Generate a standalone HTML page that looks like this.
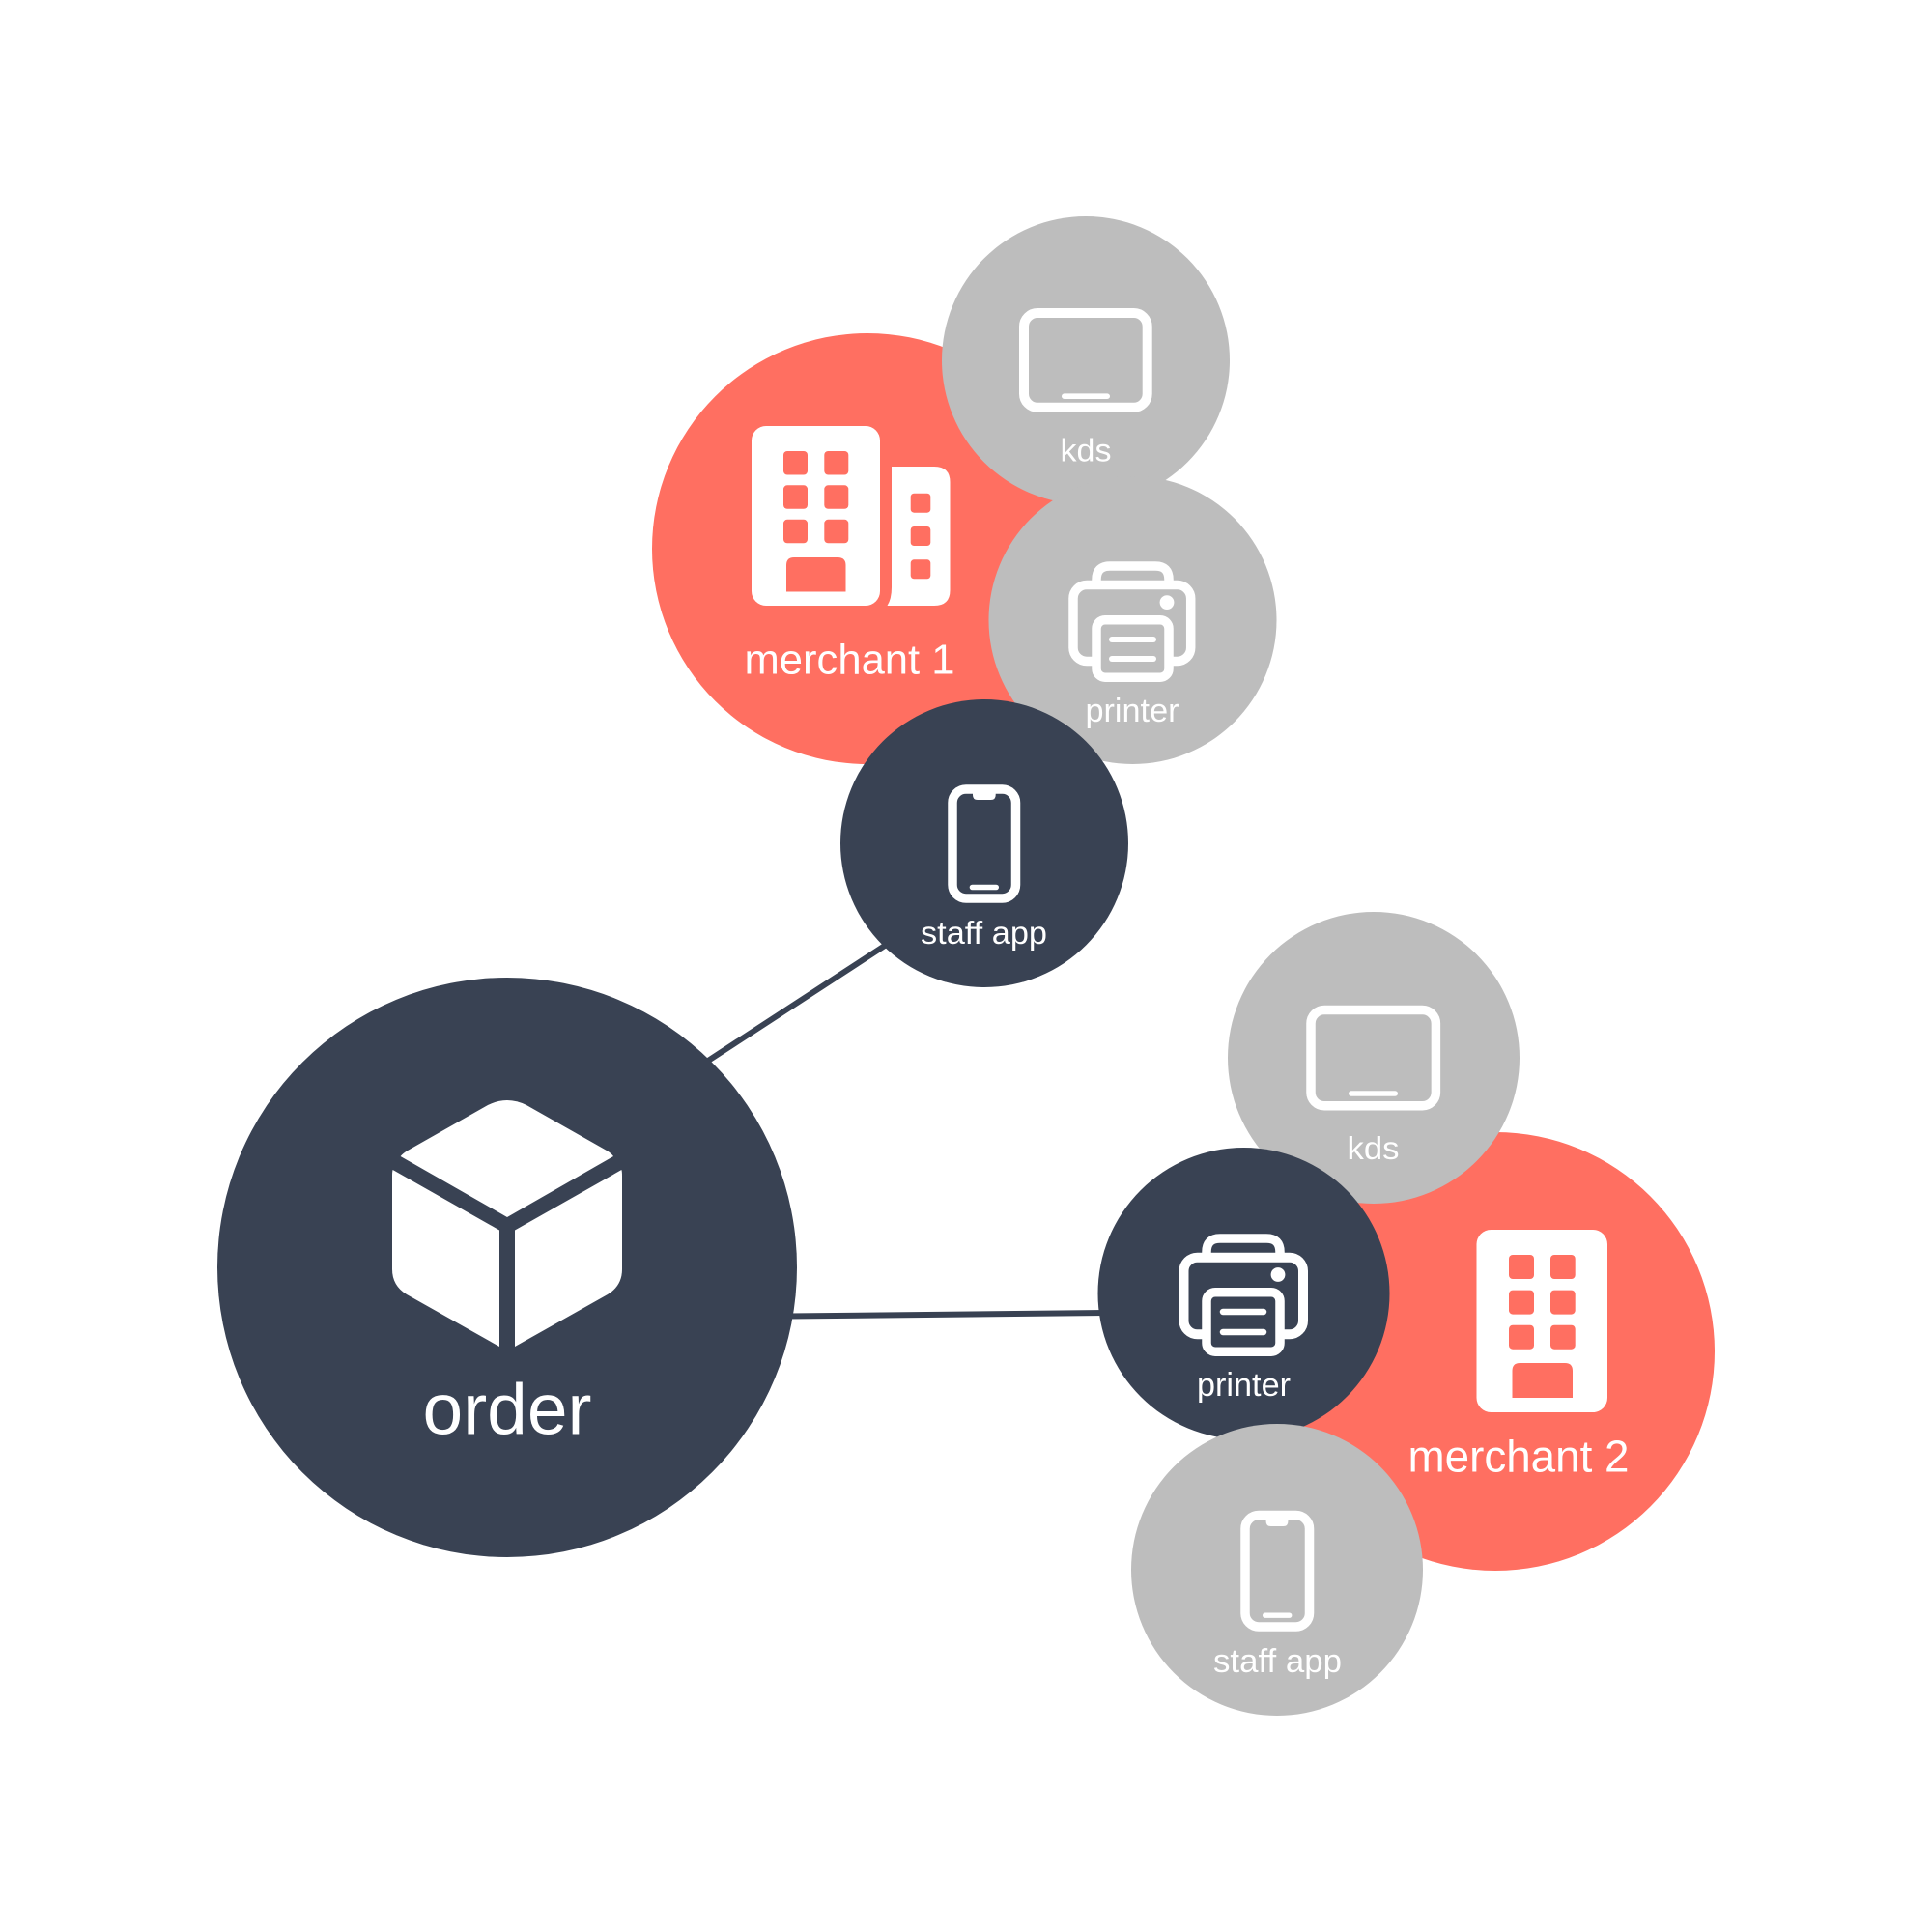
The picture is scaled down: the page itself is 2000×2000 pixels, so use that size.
<!DOCTYPE html>
<html>
<head>
<meta charset="utf-8">
<style>
html,body{margin:0;padding:0;background:#fff;width:2000px;height:2000px;overflow:hidden}
svg{display:block}
text{font-family:"Liberation Sans",sans-serif;fill:#fff;text-anchor:middle}
</style>
</head>
<body>
<svg xmlns="http://www.w3.org/2000/svg" width="2000" height="2000" viewBox="0 0 2000 2000">
<rect width="2000" height="2000" fill="#fff"/>

<!-- connectors -->
<line x1="730" y1="1100" x2="925" y2="973" stroke="#394253" stroke-width="6"/>
<line x1="815" y1="1362.5" x2="1145" y2="1359" stroke="#394253" stroke-width="6"/>

<!-- order -->
<circle cx="525" cy="1312" r="300" fill="#394253"/>
<path d="M414.6 1197 Q417 1194 422 1191 L505 1144 Q525 1134 545 1144 L628 1191 Q633 1194 635 1197 L525 1260 Z" fill="#fff"/>
<path d="M406.6 1211 L517 1273.5 V1394 L421 1340 Q406 1331 406 1314 V1217 Q406 1213 406.6 1211 Z" fill="#fff"/>
<path d="M643.4 1211 L533 1273.5 V1394 L629 1340 Q644 1331 644 1314 V1217 Q644 1213 643.4 1211 Z" fill="#fff"/>
<text x="525" y="1484.5" font-size="74" textLength="175" lengthAdjust="spacingAndGlyphs">order</text>

<!-- merchant 1 -->
<circle cx="898" cy="568" r="223" fill="#ff6f61"/>
<rect x="778" y="441" width="133" height="186" rx="15" fill="#fff"/>
<g fill="#ff6f61">
<rect x="811" y="467" width="25" height="24.5" rx="4"/>
<rect x="853.3" y="467" width="25" height="24.5" rx="4"/>
<rect x="811" y="502.3" width="25" height="24.5" rx="4"/>
<rect x="853.3" y="502.3" width="25" height="24.5" rx="4"/>
<rect x="811" y="537.8" width="25" height="24.5" rx="4"/>
<rect x="853.3" y="537.8" width="25" height="24.5" rx="4"/>
<path d="M814 612.5 V585 Q814 577 822 577 H867 Q875.5 577 875.5 585 V612.5 Z"/>
</g>
<path d="M923 483 H967 Q983.5 483 983.5 499 V611 Q983.5 627 967 627 H918.5 Q923 620 923 608 Z" fill="#fff"/>
<g fill="#ff6f61">
<rect x="942.7" y="510.7" width="20.6" height="20" rx="3.5"/>
<rect x="942.7" y="545" width="20.6" height="20" rx="3.5"/>
<rect x="942.7" y="579.3" width="20.6" height="20" rx="3.5"/>
</g>
<text x="879.5" y="697.5" font-size="44" textLength="218" lengthAdjust="spacingAndGlyphs">merchant 1</text>

<!-- kds 1 -->
<circle cx="1124" cy="373" r="149" fill="#bdbdbd"/>
<rect x="1060" y="324" width="127.7" height="97.7" rx="14" fill="none" stroke="#fff" stroke-width="10"/>
<rect x="1099" y="407.4" width="50" height="5.6" rx="2.8" fill="#fff"/>
<text x="1129" y="477.5" font-size="33" textLength="53" lengthAdjust="spacingAndGlyphs" dx="-5">kds</text>

<!-- printer 1 -->
<circle cx="1172.5" cy="642" r="149" fill="#bdbdbd"/>
<path d="M1135 606 V600 Q1135 586 1149 586 H1196 Q1210 586 1210 600 V606" fill="none" stroke="#fff" stroke-width="9.5"/>
<rect x="1111" y="605.5" width="121.7" height="79" rx="14" fill="none" stroke="#fff" stroke-width="9.5"/>
<rect x="1135" y="641.7" width="75" height="59.5" rx="9" fill="#bdbdbd" stroke="#fff" stroke-width="9.5"/>
<circle cx="1208" cy="623.6" r="7.4" fill="#fff"/>
<line x1="1151" y1="662" x2="1194" y2="662" stroke="#fff" stroke-width="6" stroke-linecap="round"/>
<line x1="1151" y1="682" x2="1194" y2="682" stroke="#fff" stroke-width="6" stroke-linecap="round"/>
<text x="1172" y="747" font-size="34" textLength="97" lengthAdjust="spacingAndGlyphs">printer</text>

<!-- staff app dark -->
<circle cx="1019" cy="873" r="149" fill="#394253"/>
<rect x="986" y="817" width="65.5" height="113" rx="14" fill="none" stroke="#fff" stroke-width="9.5"/>
<path d="M1007 815 H1030.7 V823 Q1030.7 828 1025.7 828 H1012 Q1007 828 1007 823 Z" fill="#fff"/>
<rect x="1003.7" y="915.7" width="30.3" height="5.6" rx="2.8" fill="#fff"/>
<text x="1018.5" y="977" font-size="33.6" textLength="131" lengthAdjust="spacingAndGlyphs">staff app</text>

<!-- merchant 2 -->
<circle cx="1548" cy="1399" r="227" fill="#ff6f61"/>

<!-- kds 2 -->
<circle cx="1422" cy="1095" r="151" fill="#bdbdbd"/>
<rect x="1357" y="1045.5" width="129.4" height="99.3" rx="14" fill="none" stroke="#fff" stroke-width="9.5"/>
<rect x="1396" y="1129.3" width="51" height="5.4" rx="2.7" fill="#fff"/>
<text x="1429" y="1200" font-size="33" textLength="54" lengthAdjust="spacingAndGlyphs" dx="-7.5">kds</text>

<!-- building 2 -->
<rect x="1528.5" y="1273" width="135.5" height="189" rx="15" fill="#fff"/>
<g fill="#ff6f61">
<rect x="1562" y="1299" width="26" height="25" rx="4"/>
<rect x="1605" y="1299" width="25.7" height="25" rx="4"/>
<rect x="1562" y="1335.6" width="26" height="25" rx="4"/>
<rect x="1605" y="1335.6" width="25.7" height="25" rx="4"/>
<rect x="1562" y="1371.7" width="26" height="25" rx="4"/>
<rect x="1605" y="1371.7" width="25.7" height="25" rx="4"/>
<path d="M1565.5 1447 V1419 Q1565.5 1411 1573.5 1411 H1620 Q1628 1411 1628 1419 V1447 Z"/>
</g>
<text x="1572" y="1523.6" font-size="46" textLength="229" lengthAdjust="spacingAndGlyphs">merchant 2</text>

<!-- printer dark -->
<circle cx="1287.5" cy="1339" r="151" fill="#394253"/>
<path d="M1249 1302 V1296 Q1249 1282 1263 1282 H1311 Q1325 1282 1325 1296 V1302" fill="none" stroke="#fff" stroke-width="9.5"/>
<rect x="1225.5" y="1301.7" width="123.5" height="79.5" rx="14" fill="none" stroke="#fff" stroke-width="10"/>
<rect x="1249" y="1337.7" width="76" height="61.5" rx="9" fill="#394253" stroke="#fff" stroke-width="9.5"/>
<circle cx="1323" cy="1319.5" r="7.4" fill="#fff"/>
<line x1="1266" y1="1358" x2="1308" y2="1358" stroke="#fff" stroke-width="6.5" stroke-linecap="round"/>
<line x1="1266" y1="1379" x2="1308" y2="1379" stroke="#fff" stroke-width="6.5" stroke-linecap="round"/>
<text x="1287.5" y="1452" font-size="34" textLength="97" lengthAdjust="spacingAndGlyphs" dy="-7">printer</text>

<!-- staff gray -->
<circle cx="1322" cy="1625" r="151" fill="#bdbdbd"/>
<rect x="1289" y="1568.5" width="66.5" height="115.5" rx="14" fill="none" stroke="#fff" stroke-width="9.5"/>
<path d="M1310.6 1566 H1333.4 V1575 Q1333.4 1580 1328.4 1580 H1315.6 Q1310.6 1580 1310.6 1575 Z" fill="#fff"/>
<rect x="1307" y="1669.5" width="30.4" height="5.4" rx="2.7" fill="#fff"/>
<text x="1330" y="1731" font-size="34" textLength="133" lengthAdjust="spacingAndGlyphs" dx="-7.5">staff app</text>
</svg>
</body>
</html>
